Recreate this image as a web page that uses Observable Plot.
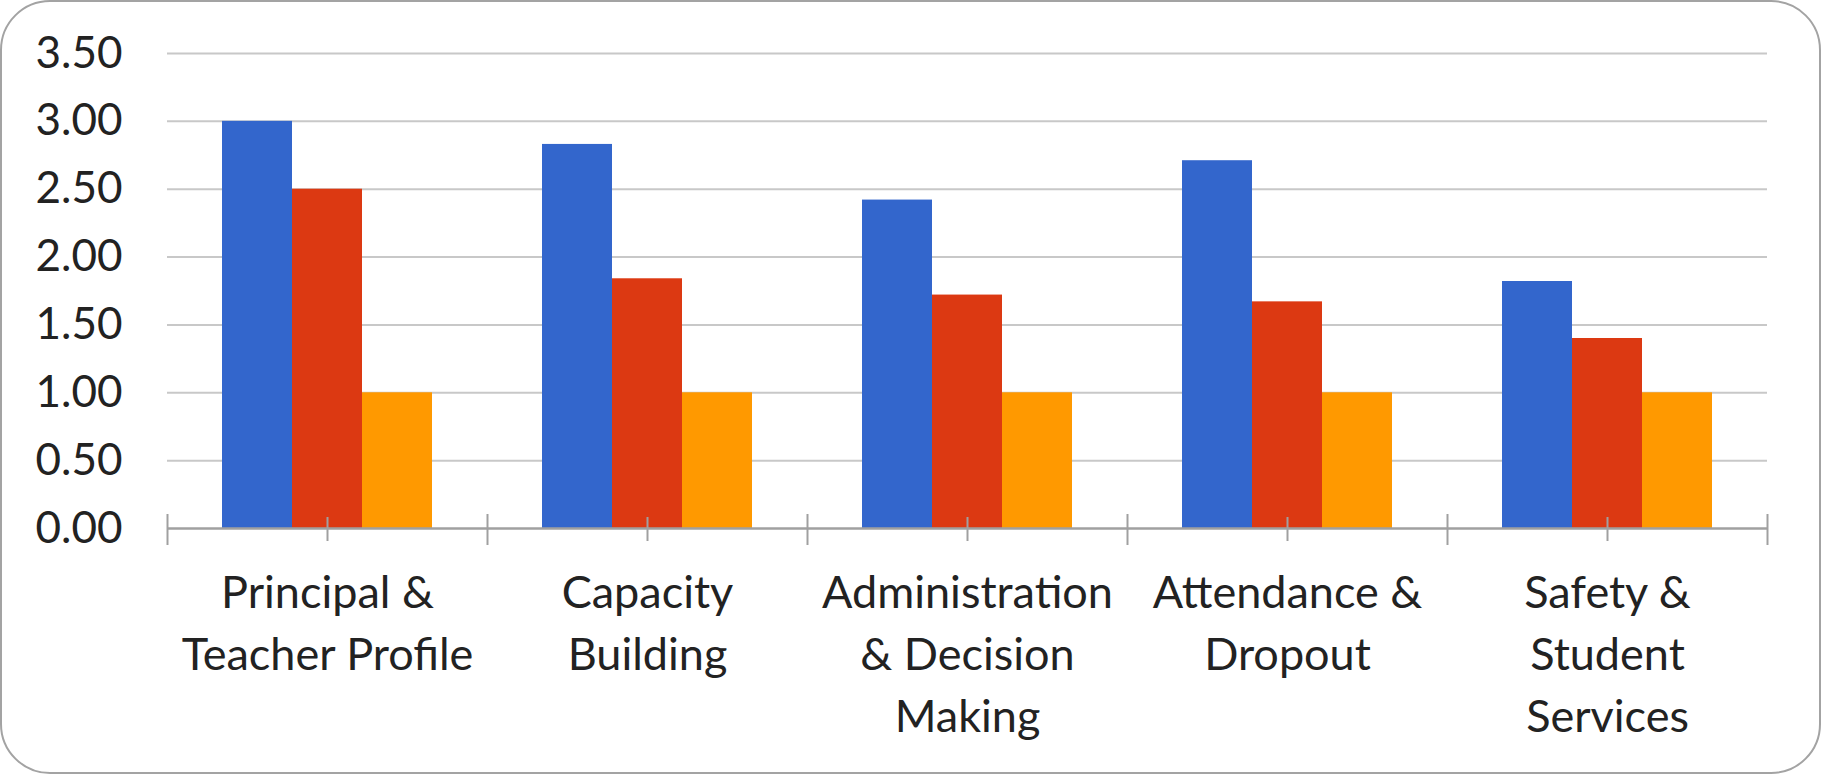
<!DOCTYPE html>
<html>
<head>
<meta charset="utf-8">
<script src="https://cdn.jsdelivr.net/npm/d3@7"></script>
<script src="https://cdn.jsdelivr.net/npm/@observablehq/plot@0.6"></script>
<style>
  html, body { margin: 0; padding: 0; background: #ffffff; }
  #wrap { position: relative; width: 1821px; height: 774px; overflow: hidden; background: #fff; }
  #wrap svg { position: absolute; left: 0; top: 0; }
  #frame { position: absolute; left: 0; top: 0; width: 1821px; height: 774px; box-sizing: border-box;
           border: 2px solid #a3a3a3; border-radius: 50px; pointer-events: none; }
</style>
</head>
<body>
<div id="wrap"><div id="frame"></div></div>
<script>
// ---- data ----
const categories = [
  "Principal &\nTeacher Profile",
  "Capacity\nBuilding",
  "Administration\n& Decision\nMaking",
  "Attendance &\nDropout",
  "Safety &\nStudent\nServices"
];
const seriesNames = ["Series 1", "Series 2", "Series 3"];
const series1Values = [3.00, 2.83, 2.42, 2.71, 1.82];
const series2Values = [2.50, 1.84, 1.72, 1.67, 1.40];
const series3Values = [1.00, 1.00, 1.00, 1.00, 1.00];
const seriesColors = ["#3366CC", "#DC3912", "#FF9900"];
const yTicks = [0, 0.5, 1, 1.5, 2, 2.5, 3, 3.5];

const valuesBySeries = [series1Values, series2Values, series3Values];
const data = categories.flatMap((c, i) =>
  seriesNames.map((s, j) => ({category: c, series: s, value: valuesBySeries[j][i]}))
);

const W = 1821, H = 774;
const margins = {marginLeft: 167, marginRight: 54, marginTop: 53, marginBottom: 246};
const font = "Lato, 'Open Sans', sans-serif";
const textColor = "#222222";
const axisGray = "#a0a0a0";

// background: gridlines and category boundary ticks
const back = Plot.plot({
  width: W, height: H, ...margins,
  style: {background: "transparent", fontFamily: font},
  x: {domain: [0, categories.length], axis: null},
  y: {domain: [0, 3.5], axis: null},
  marks: [
    Plot.ruleY(yTicks.filter(d => d > 0), {stroke: "#c8c8c8", strokeWidth: 2}),
    Plot.ruleX(d3.range(categories.length + 1), {y1: 0, y2: 0, insetTop: -14, insetBottom: -17, stroke: axisGray, strokeWidth: 2})
  ]
});

// foreground: grouped bars, axis line, axes
const front = Plot.plot({
  width: W, height: H, ...margins,
  style: {background: "transparent", fontFamily: font, color: textColor},
  fx: {domain: categories, padding: 0},
  x: {domain: seriesNames, paddingInner: 0, paddingOuter: 0.759, axis: null},
  y: {domain: [0, 3.5]},
  color: {domain: seriesNames, range: seriesColors},
  marks: [
    Plot.barY(data, {fx: "category", x: "series", y: "value", fill: "series"}),
    Plot.ruleY([0], {stroke: axisGray, strokeWidth: 2.5}),
    Plot.ruleX([seriesNames[1]], {y1: 0, y2: 0, insetTop: -11, insetBottom: -13, stroke: axisGray, strokeWidth: 2}),
    Plot.axisY(yTicks, {tickFormat: d => d.toFixed(2), tickSize: 0, tickPadding: 45, fontSize: 44, label: null, fill: textColor}),
    Plot.axisFx({anchor: "bottom", tickSize: 0, tickPadding: 36, fontSize: 45, lineHeight: 1.37, label: null, fill: textColor})
  ]
});

const wrap = document.getElementById("wrap");
const frame = document.getElementById("frame");
wrap.insertBefore(back, frame);
wrap.insertBefore(front, frame);
</script>
</body>
</html>
